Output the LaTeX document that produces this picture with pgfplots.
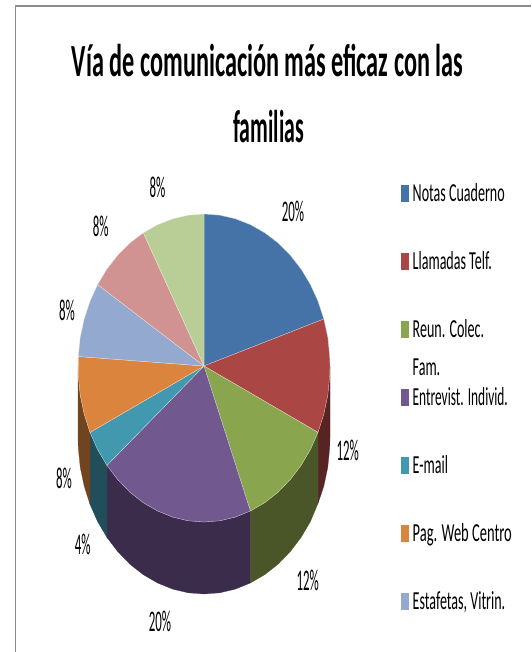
\documentclass[border=0pt]{standalone}
\usepackage{fontspec}
\usepackage{pgfplots}
\pgfplotsset{compat=1.18}
\setmainfont{Carlito}
\newfontfamily\titlef[FakeStretch=0.527]{Carlito}
\newfontfamily\titleg[FakeStretch=0.475]{Carlito}
\newfontfamily\labelf[FakeStretch=0.43]{Carlito}
\newfontfamily\legf[FakeStretch=0.54]{Carlito}
\newfontfamily\legn[FakeStretch=0.515]{Carlito}
\newfontfamily\legw[FakeStretch=0.557]{Carlito}
\definecolor{c1}{HTML}{4573A7}
\definecolor{c2}{HTML}{AA4643}
\definecolor{c3}{HTML}{89A54E}
\definecolor{c4}{HTML}{71588F}
\definecolor{c5}{HTML}{4198AF}
\definecolor{c6}{HTML}{DB843D}
\definecolor{c7}{HTML}{93A9CF}
\definecolor{c8}{HTML}{D19392}
\definecolor{c9}{HTML}{B9CD96}
\definecolor{w2}{HTML}{582423}
\definecolor{w3}{HTML}{4A5528}
\definecolor{w4}{HTML}{3A2C4A}
\definecolor{w5}{HTML}{214E5A}
\definecolor{w6}{HTML}{70441E}
\definecolor{framec}{HTML}{8C8C8C}
\tikzset{
  nl/.style={inner sep=0pt, anchor=base, text=black},
  lg/.style={inner sep=0pt, anchor=base west, text=black},
}
\begin{document}
\begin{tikzpicture}
\begin{axis}[
  scale only axis, width=531pt, height=652pt,
  xmin=0, xmax=531, ymin=0, ymax=652, y dir=reverse,
  hide axis, clip=true,
  every axis plot/.append style={mark=none, line join=round},
]
\path (axis cs:0,0) rectangle (axis cs:531,652);
% frame
\addplot[framec, line width=2pt] coordinates {(15,6) (531,6)};
\addplot[framec, line width=0.8pt] coordinates {(15,6) (15,652)};
% side walls
\addplot[fill=w2, draw=w2, line width=0.2pt] coordinates {(330,366) (329.7,375.8) (327.8,395.2) (323.8,414.2) (318,432.4) (318,503.4) (323.8,486.2) (327.8,467.2) (329.7,447.8) (330,438)} -- cycle;
\addplot[fill=w3, draw=w3, line width=0.2pt] coordinates {(318,432.4) (310.4,449.6) (301.1,465.4) (290.2,479.7) (278.1,492.2) (264.7,502.7) (250.4,511) (250.4,583) (264.7,574.7) (278.1,564.2) (290.2,551.7) (301.1,537.4) (310.4,521.6) (318,503.4)} -- cycle;
\addplot[fill=w4, draw=w4, line width=0.2pt] coordinates {(250.4,511) (235.3,517.1) (219.8,520.8) (204,522) (188.2,520.8) (172.7,517.1) (157.6,511) (143.3,502.7) (129.9,492.2) (117.8,479.7) (106.9,465.4) (106.9,537.4) (117.8,551.7) (129.9,564.2) (143.3,574.7) (157.6,583) (172.7,589.1) (188.2,592.8) (204,594) (219.8,592.8) (235.3,589.1) (250.4,583)} -- cycle;
\addplot[fill=w5, draw=w5, line width=0.2pt] coordinates {(106.9,465.4) (97.6,449.6) (90,432.4) (90,504.4) (97.6,521.6) (106.9,537.4)} -- cycle;
\addplot[fill=w6, draw=w6, line width=0.2pt] coordinates {(90,432.4) (84.2,414.2) (80.2,395.2) (78.3,375.8) (78,366) (78,438) (78.3,447.8) (80.2,467.2) (84.2,486.2) (90,504.4)} -- cycle;
% top faces
\addplot[fill=c1, draw=white!70!c1, line width=0.3pt] coordinates {(204,366) (204,214) (219.8,215.2) (235.3,218.8) (250.4,224.7) (264.7,232.8) (278.1,243) (290.2,255.2) (301.1,269.1) (310.4,284.6) (318,301.3) (323.8,319)} -- cycle;
\addplot[fill=c2, draw=white!70!c2, line width=0.3pt] coordinates {(204,366) (323.8,319) (327.8,337.5) (329.7,356.5) (330,366) (329.7,375.8) (327.8,395.2) (323.8,414.2) (318,432.4)} -- cycle;
\addplot[fill=c3, draw=white!70!c3, line width=0.3pt] coordinates {(204,366) (318,432.4) (310.4,449.6) (301.1,465.4) (290.2,479.7) (278.1,492.2) (264.7,502.7) (250.4,511)} -- cycle;
\addplot[fill=c4, draw=white!70!c4, line width=0.3pt] coordinates {(204,366) (250.4,511) (235.3,517.1) (219.8,520.8) (204,522) (188.2,520.8) (172.7,517.1) (157.6,511) (143.3,502.7) (129.9,492.2) (117.8,479.7) (106.9,465.4)} -- cycle;
\addplot[fill=c5, draw=white!70!c5, line width=0.3pt] coordinates {(204,366) (106.9,465.4) (97.6,449.6) (90,432.4)} -- cycle;
\addplot[fill=c6, draw=white!70!c6, line width=0.3pt] coordinates {(204,366) (90,432.4) (84.2,414.2) (80.2,395.2) (78.3,375.8) (78.3,356.5)} -- cycle;
\addplot[fill=c7, draw=white!70!c7, line width=0.3pt] coordinates {(204,366) (78.3,356.5) (80.2,337.5) (84.2,319) (90,301.3) (97.6,284.6)} -- cycle;
\addplot[fill=c8, draw=white!70!c8, line width=0.3pt] coordinates {(204,366) (97.6,284.6) (106.9,269.1) (117.8,255.2) (129.9,243) (143.3,232.8)} -- cycle;
\addplot[fill=c9, draw=white!70!c9, line width=0.3pt] coordinates {(204,366) (143.3,232.8) (157.6,224.7) (172.7,218.8) (188.2,215.2) (204,214)} -- cycle;
% legend keys
\addplot[fill=c1, draw=none] coordinates {(401,185) (409,185) (409,202) (401,202)} -- cycle;
\addplot[fill=c2, draw=none] coordinates {(401,253) (409,253) (409,270) (401,270)} -- cycle;
\addplot[fill=c3, draw=none] coordinates {(401,321) (409,321) (409,338) (401,338)} -- cycle;
\addplot[fill=c4, draw=none] coordinates {(401,389) (409,389) (409,406) (401,406)} -- cycle;
\addplot[fill=c5, draw=none] coordinates {(401,457) (409,457) (409,474) (401,474)} -- cycle;
\addplot[fill=c6, draw=none] coordinates {(401,525) (409,525) (409,542) (401,542)} -- cycle;
\addplot[fill=c7, draw=none] coordinates {(401,593) (409,593) (409,610) (401,610)} -- cycle;
% title
\node[nl, font=\titlef\bfseries\fontsize{46}{50}\selectfont] at (axis cs:267.5,77) {Vía de comunicación más eficaz con las};
\node[nl, font=\titleg\bfseries\fontsize{46}{50}\selectfont] at (axis cs:268.5,143) {familias};
% data labels
\node[nl, font=\labelf\fontsize{30}{32}\selectfont] at (axis cs:293,221) {20\%};
\node[nl, font=\labelf\fontsize{30}{32}\selectfont] at (axis cs:347.7,460) {12\%};
\node[nl, font=\labelf\fontsize{30}{32}\selectfont] at (axis cs:307.7,590.7) {12\%};
\node[nl, font=\labelf\fontsize{30}{32}\selectfont] at (axis cs:160,631.7) {20\%};
\node[nl, font=\labelf\fontsize{30}{32}\selectfont] at (axis cs:82.7,554) {4\%};
\node[nl, font=\labelf\fontsize{30}{32}\selectfont] at (axis cs:64,488) {8\%};
\node[nl, font=\labelf\fontsize{30}{32}\selectfont] at (axis cs:67,320.7) {8\%};
\node[nl, font=\labelf\fontsize{30}{32}\selectfont] at (axis cs:100.7,236) {8\%};
\node[nl, font=\labelf\fontsize{30}{32}\selectfont] at (axis cs:157.5,197) {8\%};
% legend text
\node[lg, font=\legf\fontsize{26}{28}\selectfont] at (axis cs:412.5,201) {Notas Cuaderno};
\node[lg, font=\legf\fontsize{26}{28}\selectfont] at (axis cs:412.5,269) {Llamadas Telf.};
\node[lg, font=\legf\fontsize{26}{28}\selectfont] at (axis cs:412.5,337) {Reun. Colec.};
\node[lg, font=\legf\fontsize{26}{28}\selectfont] at (axis cs:412.5,375) {Fam.};
\node[lg, font=\legn\fontsize{26}{28}\selectfont] at (axis cs:412.5,405) {Entrevist. Individ.};
\node[lg, font=\legf\fontsize{26}{28}\selectfont] at (axis cs:412.5,473) {E-mail};
\node[lg, font=\legw\fontsize{26}{28}\selectfont] at (axis cs:412.5,541) {Pag. Web Centro};
\node[lg, font=\legf\fontsize{26}{28}\selectfont] at (axis cs:412.5,609) {Estafetas, Vitrin.};
\end{axis}
\end{tikzpicture}
\end{document}
